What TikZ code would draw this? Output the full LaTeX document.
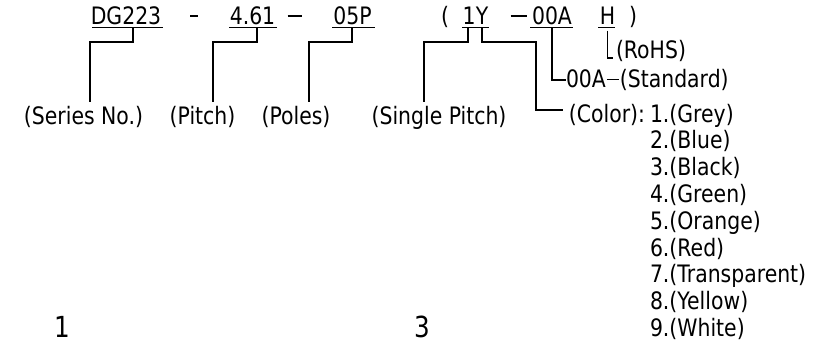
\documentclass[tikz,border=0pt]{standalone}
\usepackage{fontspec}
\setmainfont{DejaVu Sans}[FakeStretch=0.85]
\begin{document}
\begin{tikzpicture}[x=1pt,y=-1pt,
  every node/.style={inner sep=0pt,outer sep=0pt,font=\fontsize{24}{28}\selectfont},
  ln/.style={line width=1.4pt,line cap=butt,line join=miter},
  big/.style={font=\fontsize{29}{32}\selectfont}]
\useasboundingbox[fill=white] (0,0) rectangle (840,343);
% top code row
\node[anchor=base] (dg) at (126,24) {DG223};
\node[anchor=base] (d1) at (194,24) {\rule[7.5pt]{8pt}{1.4pt}};
\node[anchor=base] (pt) at (252.5,24) {4.61};
\node[anchor=base] (d2) at (294.5,24) {\rule[7.5pt]{14pt}{1.4pt}};
\node[anchor=base] (po) at (352.5,24) {05P};
\node[anchor=base] (lp) at (445,24) {(};
\node[anchor=base] (one) at (469,24) {1};
\node[anchor=base] (yy) at (482,24) {Y};
\node[anchor=base] (d3) at (518.5,24) {\rule[7.5pt]{16pt}{1.4pt}};
\node[anchor=base] (oa) at (552,24) {00A};
\node[anchor=base] (hh) at (607.5,24) {H};
\node[anchor=base] (rp) at (633,24) {)};
% underlines
\coordinate (u1a) at (92,27.5);  \coordinate (u1b) at (163,27.5);
\coordinate (u2a) at (229,27.5); \coordinate (u2b) at (277,27.5);
\coordinate (u3a) at (332,27.5); \coordinate (u3b) at (375,27.5);
\coordinate (u4a) at (462,27.5); \coordinate (u4b) at (489,27.5);
\coordinate (u5a) at (530,27.5); \coordinate (u5b) at (573,27.5);
\coordinate (u6a) at (598,27.5); \coordinate (u6b) at (615,27.5);
\draw[ln] (u1a) -- (u1b) (u2a) -- (u2b) (u3a) -- (u3b)
          (u4a) -- (u4b) (u5a) -- (u5b) (u6a) -- (u6b);
% label row
\node[anchor=base] (ser) at (83.5,124) {(Series No.)};
\node[anchor=base] (pit) at (202.5,124) {(Pitch)};
\node[anchor=base] (pol) at (296,124) {(Poles)};
\node[anchor=base] (sgl) at (439,124) {(Single Pitch)};
\node[anchor=base west] (rohs) at (616,58) {(RoHS)};
\node[anchor=base west] (std) at (566,87) {00A{\kern1pt}\rule[6.8pt]{12pt}{1.2pt}{\kern1pt}(Standard)};
\node[anchor=base east] (col) at (645,122) {(Color):};
% colour list
\foreach \t [count=\i from 0] in {1.(Grey),2.(Blue),3.(Black),4.(Green),5.(Orange),6.(Red),7.(Transparent),8.(Yellow),9.(White)}
  \node[anchor=base west] (c\i) at (650,122+26.8*\i) {\t};
% connector coordinates
\coordinate (e1) at (90,102);  \coordinate (k1) at (133,42);
\coordinate (e2) at (213,102); \coordinate (k2) at (257,42);
\coordinate (e3) at (309,102); \coordinate (k3) at (352,42);
\coordinate (e4) at (424,102); \coordinate (k4) at (468,42);
\coordinate (k5) at (536,42);  \coordinate (e5) at (563,110);
\coordinate (e6) at (566,80);
\coordinate (e7) at (613,58);
% connectors
\draw[ln] (u1a -| k1) -- (k1) -- (k1 -| e1) -- (e1);
\draw[ln] (u2a -| k2) -- (k2) -- (k2 -| e2) -- (e2);
\draw[ln] (u3a -| k3) -- (k3) -- (k3 -| e3) -- (e3);
\draw[ln] (u4a -| k4) -- (k4) -- (k4 -| e4) -- (e4);
\draw[ln] (u4a -| yy) -- (k4 -| yy) -- (k5) |- (e5);
\draw[ln] (u5a -| oa) |- (e6);
\draw[ln] ([yshift=-3pt]u6a -| hh) |- (e7);
% bottom numbers
\node[big,anchor=base] (n1) at (62,337) {1};
\node[big,anchor=base] (n3) at (422,337) {3};
\end{tikzpicture}
\end{document}
